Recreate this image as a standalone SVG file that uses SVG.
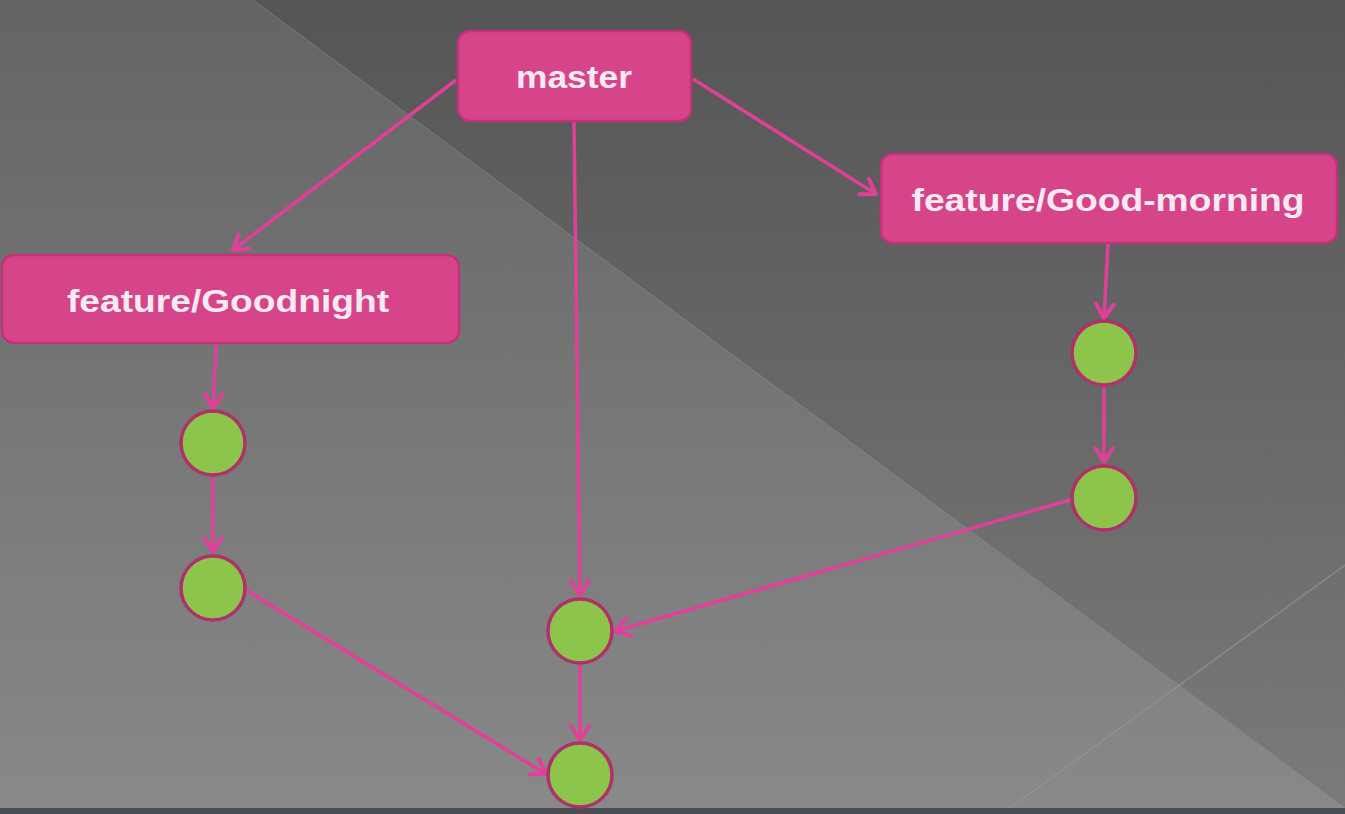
<svg xmlns="http://www.w3.org/2000/svg" width="1345" height="814" viewBox="0 0 1345 814">
<defs>
<linearGradient id="bgL" x1="0" y1="0" x2="0" y2="1">
<stop offset="0" stop-color="#646464"/>
<stop offset="1" stop-color="#898989"/>
</linearGradient>
<linearGradient id="bgD" x1="0" y1="0" x2="0" y2="1">
<stop offset="0" stop-color="#555555"/>
<stop offset="1" stop-color="#7a7a7a"/>
</linearGradient>
<marker id="arr" viewBox="0 0 20 22" refX="17" refY="11" markerWidth="20" markerHeight="22" markerUnits="userSpaceOnUse" orient="auto">
<path d="M3,2 L17,11 L3,20" fill="none" stroke="#e0409a" stroke-width="4" stroke-linecap="round" stroke-linejoin="round"/>
</marker>
<style>
.box{fill:#d6458a;stroke:#c23279;stroke-width:2.5}
.lbl{font-family:"Liberation Sans",Arial,sans-serif;font-weight:bold;font-size:32px;fill:#f6eaf2}
.dot{fill:#8dc44b;stroke:#b0306a;stroke-width:3.5}
.edge{fill:none;stroke:#e0409a;stroke-width:3.5;marker-end:url(#arr)}
</style>
</defs>
<g id="background">
<rect x="0" y="0" width="1345" height="814" fill="url(#bgL)"/>
<polygon points="253,0 1345,0 1345,808" fill="url(#bgD)"/>
<line x1="253" y1="0" x2="1345" y2="808" stroke="#8a8a8a" stroke-width="1" opacity="0.6"/>
<line x1="1345" y1="565" x2="1010" y2="808" stroke="#959595" stroke-width="1.5" opacity="0.7"/>
<rect x="0" y="808" width="1345" height="6" fill="#4a4e57"/>
</g>
<g id="connectors">
<line class="edge" x1="456" y1="80" x2="233" y2="250"/>
<line class="edge" x1="574" y1="122" x2="580" y2="595"/>
<line class="edge" x1="693" y1="79" x2="876" y2="194"/>
<line class="edge" x1="216" y1="344" x2="213" y2="408"/>
<line class="edge" x1="213" y1="477" x2="213" y2="552"/>
<line class="edge" x1="246" y1="590" x2="546" y2="774"/>
<line class="edge" x1="1108" y1="244" x2="1104" y2="318"/>
<line class="edge" x1="1104" y1="387" x2="1104" y2="462"/>
<line class="edge" x1="1070" y1="500" x2="615" y2="631"/>
<line class="edge" x1="580" y1="665" x2="580" y2="740"/>
</g>
<g id="node-master">
<rect class="box" x="458" y="31" width="233" height="90" rx="12"/>
<text class="lbl" x="574" y="88" text-anchor="middle" textLength="116" lengthAdjust="spacingAndGlyphs">master</text>
</g>
<g id="node-goodnight">
<rect class="box" x="2" y="255" width="457" height="88" rx="12"/>
<text class="lbl" x="228" y="312" text-anchor="middle" textLength="322" lengthAdjust="spacingAndGlyphs">feature/Goodnight</text>
</g>
<g id="node-goodmorning">
<rect class="box" x="881" y="154" width="456" height="89" rx="12"/>
<text class="lbl" x="1108" y="211" text-anchor="middle" textLength="393" lengthAdjust="spacingAndGlyphs">feature/Good-morning</text>
</g>
<g id="node-gn1"><circle class="dot" cx="213" cy="443" r="32"/></g>
<g id="node-gn2"><circle class="dot" cx="213" cy="588" r="32"/></g>
<g id="node-gm1"><circle class="dot" cx="1104" cy="353" r="32"/></g>
<g id="node-gm2"><circle class="dot" cx="1104" cy="498" r="32"/></g>
<g id="node-m1"><circle class="dot" cx="580" cy="631" r="32"/></g>
<g id="node-m2"><circle class="dot" cx="580" cy="775" r="32"/></g>
</svg>
